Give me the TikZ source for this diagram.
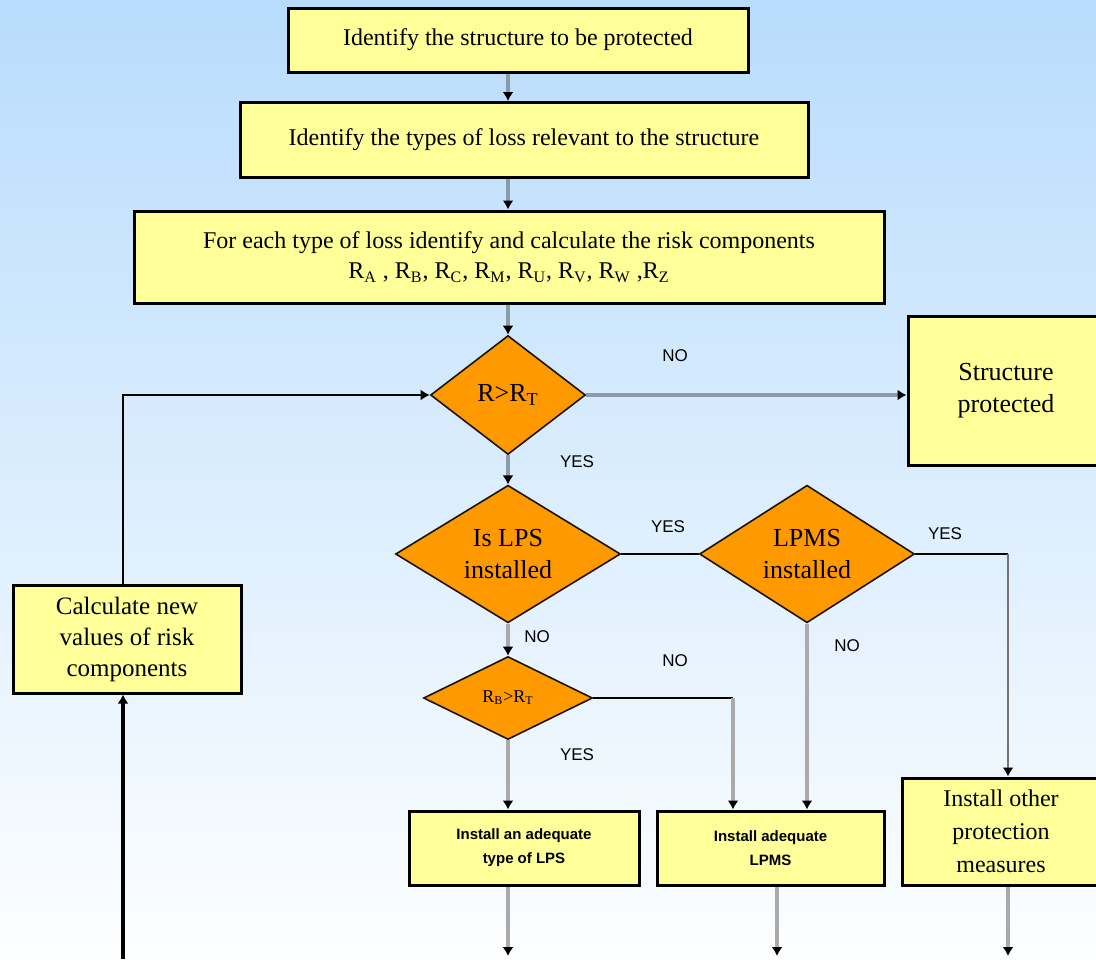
\documentclass[tikz,border=0pt]{standalone}
\usepackage{fontspec}
\setmainfont{Liberation Serif}
\setsansfont{Liberation Sans}
\usetikzlibrary{shapes.geometric,arrows.meta}

\definecolor{boxyellow}{RGB}{255,255,153}
\definecolor{decorange}{RGB}{255,153,0}
\definecolor{skytop}{RGB}{184,220,252}
\definecolor{skybottom}{RGB}{253,254,255}
\definecolor{linkblue}{RGB}{138,155,170}
\definecolor{linkgray}{RGB}{170,170,170}

\tikzset{
	stepbox/.style={draw=black, line width=1.5pt, fill=boxyellow, align=center, inner sep=2pt, font=\fontsize{12}{15}\selectfont},
	smallbox/.style={stepbox, font=\sffamily\bfseries\fontsize{7.5}{12}\selectfont},
	decision/.style={diamond, draw=black!85!brown, line width=0.8pt, fill=decorange, align=center, inner sep=0pt, font=\fontsize{13}{16}\selectfont},
	answer/.style={font=\sffamily\fontsize{8.5}{10}\selectfont},
	tip/.style={-{Latex[black,length=4.5pt,width=5.5pt]}},
	bluelink/.style={tip, draw=linkblue, line width=2.2pt},
	graylink/.style={tip, draw=linkgray, line width=2.2pt},
	darklink/.style={tip, draw=black!55, line width=1.2pt},
	blackline/.style={draw=black, line width=1pt}
}

\begin{document}
\begin{tikzpicture}[x=0.5pt, y=-0.5pt]
		%background
			\useasboundingbox (0,0) rectangle (1096,959);
			\shade[top color=skytop, bottom color=skybottom] (0,0) rectangle (1096,959);
		%top boxes
			\node[stepbox, minimum width=230pt, minimum height=32pt] (ident) at (518,40) {Identify the structure to be protected};
			\node[stepbox, minimum width=284pt, minimum height=37.5pt] (losses) at (524,140) {Identify the types of loss relevant to the structure};
			\node[stepbox, minimum width=375pt, minimum height=46pt] (comps) at (509,257) {For each type of loss identify and calculate the risk components\\
				R\textsubscript{A} , R\textsubscript{B}, R\textsubscript{C}, R\textsubscript{M}, R\textsubscript{U}, R\textsubscript{V}, R\textsubscript{W} ,R\textsubscript{Z}};
		%decisions
			\node[decision, minimum width=77.5pt, minimum height=59.5pt] (risk) at (508,395) {R>R\textsubscript{T}};
			\node[decision, minimum width=112.5pt, minimum height=59pt] (lps) at (508,554) {Is LPS\\installed};
			\node[decision, minimum width=107.5pt, minimum height=59pt] (lpms) at (807,554) {LPMS\\installed};
			\node[decision, minimum width=84.5pt, minimum height=41.5pt, font=\fontsize{9}{11}\selectfont] (rb) at (508,698) {R\textsubscript{B}>R\textsubscript{T}};
		%result boxes
			\node[stepbox, minimum width=98pt, minimum height=74.5pt, font=\fontsize{13}{16}\selectfont] (safe) at (1006,390.5) {Structure\\protected};
			\node[stepbox, minimum width=114pt, minimum height=54pt, font=\fontsize{12.5}{15.5}\selectfont] (recalc) at (127,639) {Calculate new\\values of risk\\components};
			\node[smallbox, minimum width=115pt, minimum height=37pt] (newlps) at (524,848) {Install an adequate\\type of LPS};
			\node[smallbox, minimum width=113.5pt, minimum height=37pt] (newlpms) at (770.5,848) {Install adequate\\LPMS};
			\node[stepbox, minimum width=99pt, minimum height=53.5pt, font=\fontsize{12}{16.5}\selectfont] (other) at (1001,831.5) {Install other\\protection\\measures};
		%turn points
			\coordinate (lpmsturn) at (1008,554);
			\coordinate (rbturn) at (733,698);
			\coordinate (loopbase) at (123,959);
			\coordinate (loopup) at (123,395);
			\coordinate (outA) at (508,956);
			\coordinate (outB) at (777,956);
			\coordinate (outC) at (1008,956);
		%connectors
			\draw[bluelink] (ident.south -| risk) -- (losses.north -| risk);
			\draw[bluelink] (losses.south -| risk) -- (comps.north -| risk);
			\draw[bluelink] (comps.south -| risk) -- (risk.north);
			\draw[bluelink] (risk.east) -- (risk.east -| safe.west);
			\draw[bluelink] (risk.south) -- (lps.north);
			\draw[blackline] (lps.east) -- (lpms.west);
			\draw[blackline] (lpms.east) -- (lpmsturn);
			\draw[darklink] (lpmsturn) -- (lpmsturn |- other.north);
			\draw[graylink] (lps.south) -- (rb.north);
			\draw[graylink] (lpms.south) -- (lpms.south |- newlpms.north);
			\draw[blackline] (rb.east) -- (rbturn);
			\draw[graylink] (rbturn) -- (rbturn |- newlpms.north);
			\draw[graylink] (rb.south) -- (rb.south |- newlps.north);
			\draw[graylink] (newlps.south -| outA) -- (outA);
			\draw[graylink] (newlpms.south -| outB) -- (outB);
			\draw[graylink] (other.south -| outC) -- (outC);
		%loop back
			\draw[tip, blackline, line width=1.6pt] (loopbase) -- (recalc.south -| loopbase);
			\draw[tip, blackline] (recalc.north -| loopbase) -- (loopup) -- (risk.west);
		%labels
			\node[answer] (noa) at (675,356) {NO};
			\node[answer] (yesa) at (577,462) {YES};
			\node[answer] (yesb) at (668,527) {YES};
			\node[answer] (yesc) at (945,534) {YES};
			\node[answer] (nob) at (537,637) {NO};
			\node[answer] (noc) at (847,646) {NO};
			\node[answer] (nod) at (675,661) {NO};
			\node[answer] (yesd) at (577,755) {YES};
	\end{tikzpicture}
\end{document}
